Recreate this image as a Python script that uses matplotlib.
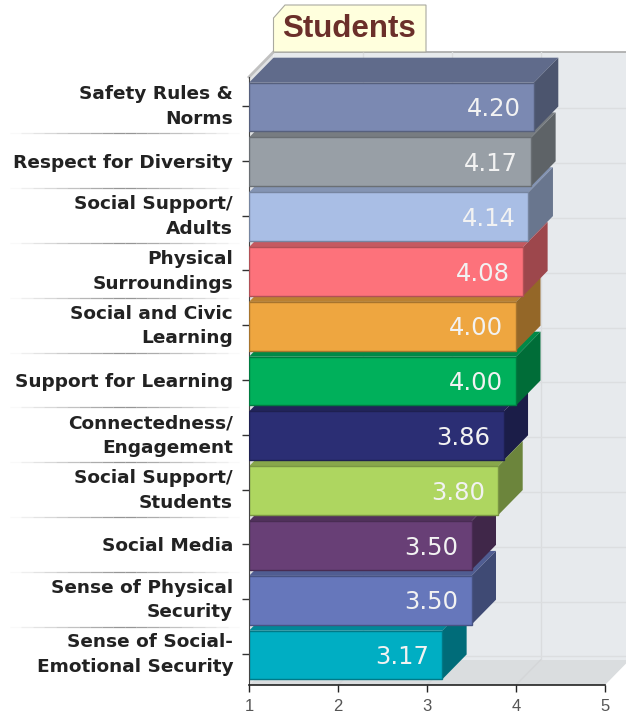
from matplotlib import pyplot
from matplotlib.colors import to_rgb
from matplotlib.patches import Polygon
from matplotlib.transforms import ScaledTranslation
import numpy as np

categories = ['Safety Rules &\nNorms', 'Respect for Diversity', 'Social Support/\nAdults',
	'Physical\nSurroundings', 'Social and Civic\nLearning', 'Support for Learning',
	'Connectedness/\nEngagement', 'Social Support/\nStudents', 'Social Media',
	'Sense of Physical\nSecurity', 'Sense of Social-\nEmotional Security']
values = [4.20, 4.17, 4.14, 4.08, 4.00, 4.00, 3.86, 3.80, 3.50, 3.50, 3.17]
colors = ['#7b89b2', '#989fa6', '#a9bee5', '#fd727b', '#eea640', '#00b05b', '#2b2e74',
	'#aed660', '#683f76', '#6677bb', '#00aec3']
x_ticks = [1, 2, 3, 4, 5]

# depth of the fake 3d, in data units
DX = 24.5 / 89.
DY = 25 / 54.8
BAR_H = 0.89


def shade(color, factor):
	return tuple(c * factor for c in to_rgb(color))


def add_poly(ax, pts, color, zorder, edge='none'):
	ax.add_patch(Polygon(pts, closed=True, facecolor=color, edgecolor=edge, lw=0.8,
		zorder=zorder, clip_on=False))


fig = pyplot.figure(figsize=(6.26, 7.16), dpi=100)
ax = fig.add_axes([249 / 626., 31 / 716., 356 / 626., 633 / 716.])
ax.set_xlim(1, 5)
ax.set_ylim(10.566, -0.985)

y_low = ax.get_ylim()[0]
y_high = ax.get_ylim()[1]
y_back = y_low - DY

# walls and floor
add_poly(ax, [(1 + DX, y_high), (5 + DX, y_high), (5 + DX, y_back), (1 + DX, y_back)], '#e7eaed', 0)
add_poly(ax, [(1, y_high + DY), (1 + DX, y_high), (1 + DX, y_back), (1, y_low)], '#e1e3e5', 0.1)
add_poly(ax, [(1, y_low), (5, y_low), (5 + DX, y_back), (1 + DX, y_back)], '#dadddf', 0.2)
ax.plot([1 + DX, 5 + DX], [y_high, y_high], color='#a8a8a8', lw=1.2, zorder=0.3, clip_on=False)
ax.plot([1, 1 + DX], [y_high + DY, y_high], color='#c0c0c0', lw=2, zorder=0.3, clip_on=False)

# grid on the back wall
for xt in x_ticks[1:4]:
	ax.plot([xt + DX, xt + DX], [y_high, y_back], color='#dadcde', lw=1, zorder=0.4)
	ax.plot([xt, xt + DX], [y_low, y_back], color='#d4d6d8', lw=1, zorder=0.4)
for k in range(len(values)):
	yg = k + 0.5 - DY
	ax.plot([1 + DX, 5 + DX], [yg, yg], color='#dcdee0', lw=1, zorder=0.4, clip_on=False)
	ax.plot([1, 1 + DX], [yg + DY, yg], color='#d8dadc', lw=1, zorder=0.4)

# label separators, in the margin left of the axis, fading out at both ends
sep_edges = np.linspace(1 - 239 / 89., 1 - 10 / 89., 21)
for k in range(len(values) - 1):
	for j in range(20):
		fade = 1 - abs(j - 9.5) / 10.
		ax.plot(sep_edges[j:j + 2], [k + 0.5, k + 0.5], color='#909090', lw=0.9, alpha=fade,
			clip_on=False, solid_capstyle='butt')

# bars, lowest first so the one above sits on top of it
for i in range(len(values) - 1, -1, -1):
	val = values[i]
	col = colors[i]
	z = 2 + (len(values) - i) * 0.1
	y_top = i + 0.02 - BAR_H / 2
	y_bot = i + 0.02 + BAR_H / 2
	add_poly(ax, [(1, y_top), (1 + DX, y_top - DY), (val + DX, y_top - DY), (val, y_top)], shade(col, 0.78), z)
	add_poly(ax, [(val, y_top), (val + DX, y_top - DY), (val + DX, y_bot - DY), (val, y_bot)], shade(col, 0.62), z)
	ax.barh(i + 0.02, val - 1, left=1, height=BAR_H, color=col, edgecolor=shade(col, 0.7), lw=1, zorder=z + 0.01)
	ax.text(val - 13 / 89., i + 0.06, '{:.2f}'.format(val), color='#f2f2f2', fontsize=17.5,
		ha='right', va='center', zorder=z + 0.02)

# title tab
tab_x = [1 + DX, 1 + DX, 1 + 36 / 89., 1 + 177 / 89., 1 + 177 / 89.]
tab_y = [y_high, y_high - 34 / 54.8, y_high - 47 / 54.8, y_high - 47 / 54.8, y_high]
add_poly(ax, list(zip(tab_x, tab_y)), '#ffffdd', 1, edge='#a9a9a0')
ax.text(1 + 100 / 89., y_high - 22.5 / 54.8, 'Students', color='#6b2f2a', fontsize=22.5,
	fontweight='bold', family='Liberation Sans', ha='center', va='center', zorder=3)

ax.set_xticks(x_ticks)
ax.set_xticklabels([str(t) for t in x_ticks], family='Liberation Sans', fontsize=12, color='#555555')
ax.set_yticks(np.arange(len(categories)))
ax.set_yticklabels(categories, fontsize=13.3, fontweight='bold', color='#222222', linespacing=1.48, ha='right')
ax.tick_params(axis='x', length=5, width=1, color='#222222', pad=5)
ax.tick_params(axis='y', length=5, width=1, color='#333333', pad=6.5)

# two line labels sit a little above their tick
for lab in ax.get_yticklabels():
	if '\n' in lab.get_text():
		lab.set_transform(lab.get_transform() + ScaledTranslation(0, 4.5 / 100., fig.dpi_scale_trans))

for name in ['top', 'right']:
	ax.spines[name].set_visible(False)
ax.spines['left'].set_bounds(y_low, y_high + DY)
ax.spines['left'].set_color('#444444')
ax.spines['bottom'].set_color('#222222')
ax.spines['bottom'].set_linewidth(1.2)
ax.patch.set_visible(False)

pyplot.savefig('out.png', dpi=100)
pyplot.close()
